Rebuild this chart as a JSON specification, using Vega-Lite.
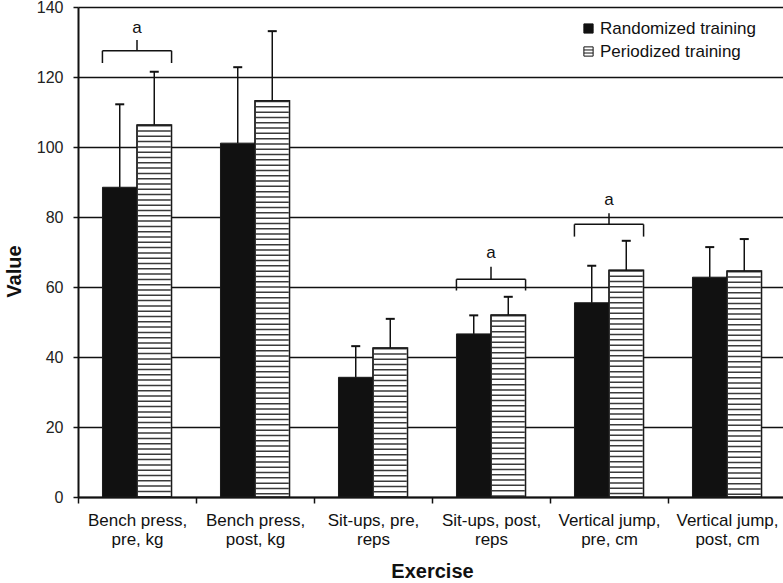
{
  "$schema": "https://vega.github.io/schema/vega-lite/v6.json",
  "width": 708,
  "height": 490,
  "autosize": {"type": "none"},
  "padding": {"left": 78, "top": 7, "right": 0, "bottom": 86},
  "background": "white",
  "config": {"view": {"stroke": null}, "font": "Liberation Sans"},
  "datasets": {
    "bars": [
      {"exercise": "Bench press,\npre, kg", "group": "Randomized training", "value": 88.5, "hi": 112.2},
      {"exercise": "Bench press,\npre, kg", "group": "Periodized training", "value": 106.3, "hi": 121.5},
      {"exercise": "Bench press,\npost, kg", "group": "Randomized training", "value": 101.1, "hi": 122.8},
      {"exercise": "Bench press,\npost, kg", "group": "Periodized training", "value": 113.2, "hi": 133.1},
      {"exercise": "Sit-ups, pre,\nreps", "group": "Randomized training", "value": 34.2, "hi": 43.1},
      {"exercise": "Sit-ups, pre,\nreps", "group": "Periodized training", "value": 42.6, "hi": 50.9},
      {"exercise": "Sit-ups, post,\nreps", "group": "Randomized training", "value": 46.6, "hi": 51.9},
      {"exercise": "Sit-ups, post,\nreps", "group": "Periodized training", "value": 52.0, "hi": 57.2},
      {"exercise": "Vertical jump,\npre, cm", "group": "Randomized training", "value": 55.5, "hi": 66.1},
      {"exercise": "Vertical jump,\npre, cm", "group": "Periodized training", "value": 64.8, "hi": 73.2},
      {"exercise": "Vertical jump,\npost, cm", "group": "Randomized training", "value": 62.8, "hi": 71.4},
      {"exercise": "Vertical jump,\npost, cm", "group": "Periodized training", "value": 64.6, "hi": 73.7}
    ],
    "braces": [
      {"exercise": "Bench press,\npre, kg", "bottom": 124.0, "top": 127.5, "tip": 130.6, "labelY": 133.9, "label": "a"},
      {"exercise": "Sit-ups, post,\nreps", "bottom": 59.0, "top": 62.2, "tip": 65.8, "labelY": 69.6, "label": "a"},
      {"exercise": "Vertical jump,\npre, cm", "bottom": 74.4, "top": 77.9, "tip": 81.1, "labelY": 84.9, "label": "a"}
    ]
  },
  "encoding": {
    "x": {
      "field": "exercise",
      "type": "nominal",
      "scale": {
        "domain": ["Bench press,\npre, kg", "Bench press,\npost, kg", "Sit-ups, pre,\nreps", "Sit-ups, post,\nreps", "Vertical jump,\npre, cm", "Vertical jump,\npost, cm"],
        "paddingInner": 0,
        "paddingOuter": 0
      },
      "axis": {
        "title": "Exercise",
        "titleFontSize": 20,
        "titleFontWeight": "bold",
        "titleColor": "#111",
        "titlePadding": 14,
        "labelAngle": 0,
        "labelExpr": "split(datum.label, '\\n')",
        "labelFontSize": 17,
        "labelLineHeight": 19,
        "labelColor": "#111",
        "labelPadding": 9,
        "labelLimit": 200,
        "tickBand": "extent",
        "tickSize": 6,
        "tickWidth": 1.5,
        "tickColor": "#111",
        "domainColor": "#111",
        "domainWidth": 2
      }
    }
  },
  "layer": [
    {
      "data": {"name": "bars"},
      "mark": {"type": "bar", "stroke": "#1a1a1a", "strokeWidth": 1},
      "encoding": {
        "xOffset": {"field": "group", "type": "nominal", "scale": {"domain": ["Randomized training", "Periodized training"], "paddingInner": 0, "paddingOuter": 0.709}},
        "y": {
          "field": "value",
          "type": "quantitative",
          "scale": {"domain": [0, 140], "nice": false},
          "axis": {
            "title": "Value",
            "titleFontSize": 20,
            "titleFontWeight": "bold",
            "titleColor": "#111",
            "titlePadding": 12,
            "titleY": 264,
            "values": [0, 20, 40, 60, 80, 100, 120, 140],
            "labelFontSize": 16,
            "labelColor": "#222",
            "labelPadding": 10,
            "tickSize": 5,
            "tickWidth": 1.5,
            "tickColor": "#111",
            "domainColor": "#111",
            "domainWidth": 2,
            "grid": true,
            "gridColor": "#111",
            "gridWidth": 1.6
          }
        },
        "fill": {
          "field": "group",
          "type": "nominal",
          "scale": {"domain": ["Randomized training", "Periodized training"], "range": ["#111111", "#ffffff"]},
          "legend": {
            "title": null,
            "orient": "none",
            "legendX": 502,
            "legendY": 13,
            "labelFontSize": 17,
            "labelColor": "#111",
            "labelOffset": 3,
            "rowPadding": 5,
            "symbolType": "M-1,-1H1V1H-1Z M-1,-0.33H1 M-1,0.33H1",
            "symbolSize": 85,
            "symbolStrokeColor": "#111",
            "symbolStrokeWidth": 1,
            "symbolOpacity": 1
          }
        }
      }
    },
    {
      "data": {"name": "bars"},
      "transform": [{"filter": "datum.group === 'Periodized training'"}],
      "mark": {"type": "rule", "stroke": "#3a3a3a", "strokeWidth": 33, "strokeDash": [1.5, 3.8]},
      "encoding": {
        "xOffset": {"field": "group", "type": "nominal"},
        "y": {"field": "value", "type": "quantitative"},
        "y2": {"datum": 0}
      }
    },
    {
      "data": {"name": "bars"},
      "transform": [{"filter": "datum.group === 'Periodized training'"}],
      "mark": {"type": "bar", "fill": "white", "fillOpacity": 0, "stroke": "#1a1a1a", "strokeWidth": 1.5},
      "encoding": {
        "xOffset": {"field": "group", "type": "nominal"},
        "y": {"field": "value", "type": "quantitative"}
      }
    },
    {
      "data": {"name": "bars"},
      "mark": {"type": "rule", "stroke": "#111", "strokeWidth": 1.5},
      "encoding": {
        "xOffset": {"field": "group", "type": "nominal"},
        "y": {"field": "value", "type": "quantitative"},
        "y2": {"field": "hi"}
      }
    },
    {
      "data": {"name": "bars"},
      "mark": {"type": "tick", "color": "#111", "size": 9, "thickness": 2, "opacity": 1},
      "encoding": {
        "xOffset": {"field": "group", "type": "nominal"},
        "y": {"field": "hi", "type": "quantitative"}
      }
    },
    {
      "data": {"name": "braces"},
      "mark": {"type": "rule", "stroke": "#111", "strokeWidth": 1.5},
      "encoding": {
        "x": {"field": "exercise", "type": "nominal", "bandPosition": 0.207},
        "x2": {"field": "exercise", "bandPosition": 0.793},
        "y": {"field": "top", "type": "quantitative"}
      }
    },
    {
      "data": {"name": "braces"},
      "mark": {"type": "rule", "stroke": "#111", "strokeWidth": 1.5},
      "encoding": {
        "x": {"field": "exercise", "type": "nominal", "bandPosition": 0.207},
        "y": {"field": "bottom", "type": "quantitative"},
        "y2": {"field": "top"}
      }
    },
    {
      "data": {"name": "braces"},
      "mark": {"type": "rule", "stroke": "#111", "strokeWidth": 1.5},
      "encoding": {
        "x": {"field": "exercise", "type": "nominal", "bandPosition": 0.793},
        "y": {"field": "bottom", "type": "quantitative"},
        "y2": {"field": "top"}
      }
    },
    {
      "data": {"name": "braces"},
      "mark": {"type": "rule", "stroke": "#111", "strokeWidth": 1.5},
      "encoding": {
        "x": {"field": "exercise", "type": "nominal", "bandPosition": 0.5},
        "y": {"field": "top", "type": "quantitative"},
        "y2": {"field": "tip"}
      }
    },
    {
      "data": {"name": "braces"},
      "mark": {"type": "text", "fontSize": 17, "color": "#111", "baseline": "middle"},
      "encoding": {
        "x": {"field": "exercise", "type": "nominal", "bandPosition": 0.5},
        "y": {"field": "labelY", "type": "quantitative"},
        "text": {"field": "label"}
      }
    }
  ]
}
